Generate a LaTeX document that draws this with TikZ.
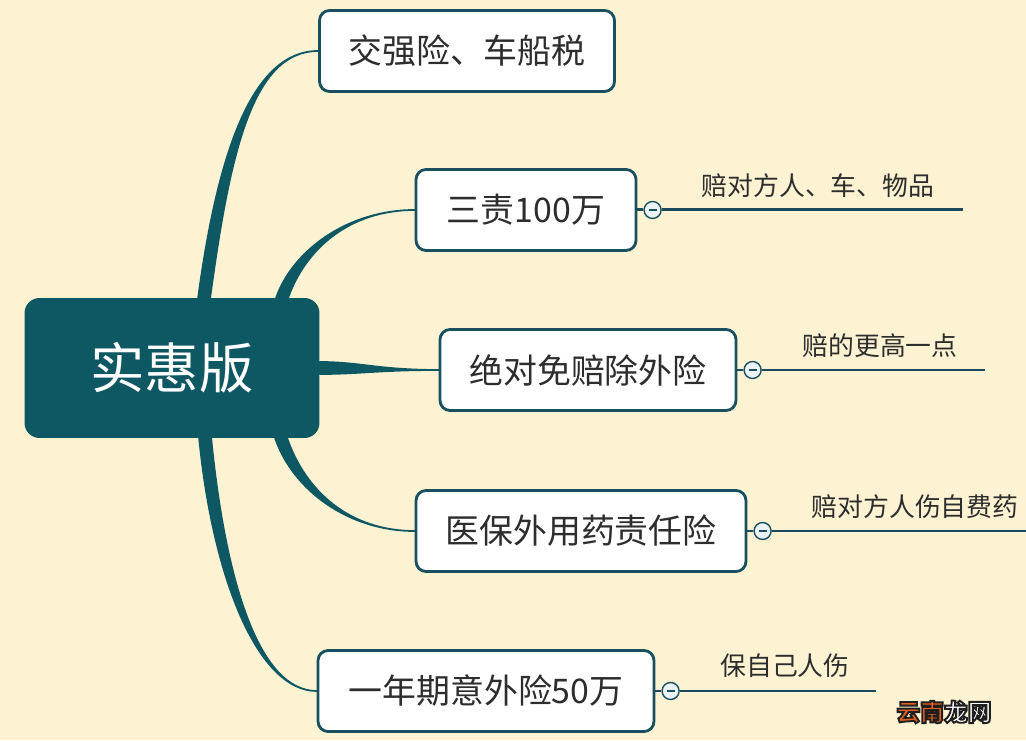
\documentclass[tikz,border=0pt]{standalone}
\usepackage{fontspec}
\setmainfont{Noto Sans CJK SC}
\usetikzlibrary{positioning,calc,backgrounds}
\definecolor{creamcolor}{RGB}{253,243,211}
\definecolor{rootcolor}{RGB}{14,88,99}
\definecolor{edgecolor}{RGB}{24,80,96}
\definecolor{twigcolor}{RGB}{26,74,94}
\definecolor{inkcolor}{RGB}{45,45,45}
\definecolor{knobcolor}{RGB}{236,243,246}
\definecolor{markcolor}{RGB}{232,96,28}

% tapered branch: start, half width, control 1, control 2, end
\newcommand{\limb}[5]{%
  \filldraw[limb] ($(#1)+(#2)$) .. controls +(#3) and +(#4) .. (#5)
    .. controls +(#4) and +(#3) .. ($(#1)-(#2)$) -- cycle;}
% outlined text for the watermark
\newcommand{\outlined}[2]{\textcolor{#1}{\special{pdf:code q 0.12 0.12 0.12 RG 2 Tr 1.1 w}#2\special{pdf:code Q}}}

\begin{document}
\begin{tikzpicture}[
  x=0.02cm, y=0.02cm,
  root/.style={rectangle, rounded corners=0.3cm, fill=rootcolor, text=white, minimum width=5.9cm, minimum height=2.8cm, font=\fontsize{31}{36}\selectfont},
  topic/.style={rectangle, draw=edgecolor, line width=1.6pt, fill=white, rounded corners=0.2cm, minimum height=1.62cm, text=inkcolor, font=\fontsize{19.3}{23}\selectfont},
  knob/.style={circle, draw=edgecolor, line width=0.8pt, fill=knobcolor, minimum size=0.34cm, inner sep=0pt,
    path picture={\draw[edgecolor, line width=0.6pt] ([xshift=-2.3pt]path picture bounding box.center) -- ([xshift=2.3pt]path picture bounding box.center);}},
  limb/.style={fill=rootcolor, draw=rootcolor, line width=1pt, line join=round},
  twig/.style={draw=twigcolor, line width=1.7pt},
  leaf/.style={text=inkcolor, font=\fontsize{14.7}{18}\selectfont, inner sep=0pt},
  wmark/.style={font=\bfseries\fontsize{13.5}{16}\selectfont, inner sep=0pt},
]
\useasboundingbox (0,0) rectangle (1026,740);

% === Central topic ===
\node[root] (root) at (172,372) {实惠版};

% === Main topics ===
\node[topic, minimum width=5.9cm] (b1) at (467,689) {交强险、车船税};
\node[topic, minimum width=4.4cm] (b2) at (526,530) {三责100万};
\node[topic, minimum width=5.92cm] (b3) at (588,370) {绝对免赔除外险};
\node[topic, minimum width=6.6cm] (b4) at (581,209) {医保外用药责任险};
\node[topic, minimum width=6.72cm] (b5) at (486,49) {一年期意外险50万};

% === Collapse knobs ===
\node[knob, right=0.12cm of b2] (k2) {};
\node[knob, right=0.12cm of b3] (k3) {};
\node[knob, right=0.12cm of b4] (k4) {};
\node[knob, right=0.12cm of b5] (k5) {};

% === Sub topics ===
\coordinate (e2) at ($(k2)+(310,0)$);
\coordinate (e3) at ($(k3)+(232,0)$);
\coordinate (e4) at ($(k4)+(266,0)$);
\coordinate (e5) at ($(k5)+(205,0)$);
\node[leaf] (l2) at (818,554) {赔对方人、车、物品};
\node[leaf] (l3) at (880,394) {赔的更高一点};
\node[leaf] (l4) at (915,233) {赔对方人伤自费药};
\node[leaf] (l5) at (785,74) {保自己人伤};

\draw[twig] (b2.east) -- (k2.west);
\draw[twig] (b3.east) -- (k3.west);
\draw[twig] (b4.east) -- (k4.west);
\draw[twig] (b5.east) -- (k5.west);
\draw[twig] (k2.east) -- (e2);
\draw[twig] (k3.east) -- (e3);
\draw[twig] (k4.east) -- (e4);
\draw[twig] (k5.east) -- (e5);

% === Watermark ===
\node[wmark] (wm) at (944,28) {\outlined{markcolor}{云南}\outlined{white}{龙网}};

% === Branches from the centre ===
\begin{scope}[on background layer]
  \fill[creamcolor] (0,0) rectangle (1026,740);
  \coordinate (r1) at ($(root.north west)+(180,0)$);
  \coordinate (r2) at ($(root.north west)+(258,0)$);
  \coordinate (r4) at ($(root.south west)+(257,0)$);
  \coordinate (r5) at ($(root.south west)+(181,0)$);
  \limb{r1}{6,0}{20,148}{-65,0}{b1.west}
  \limb{r2}{6,0}{17,48}{-66,0}{b2.west}
  \limb{root.east}{0,6}{40,0}{-60,0}{b3.west}
  \limb{r4}{6,0}{18,-52}{-66,0}{b4.west}
  \limb{r5}{6,0}{14,-142}{-58,0}{b5.west}
\end{scope}
\end{tikzpicture}
\end{document}
